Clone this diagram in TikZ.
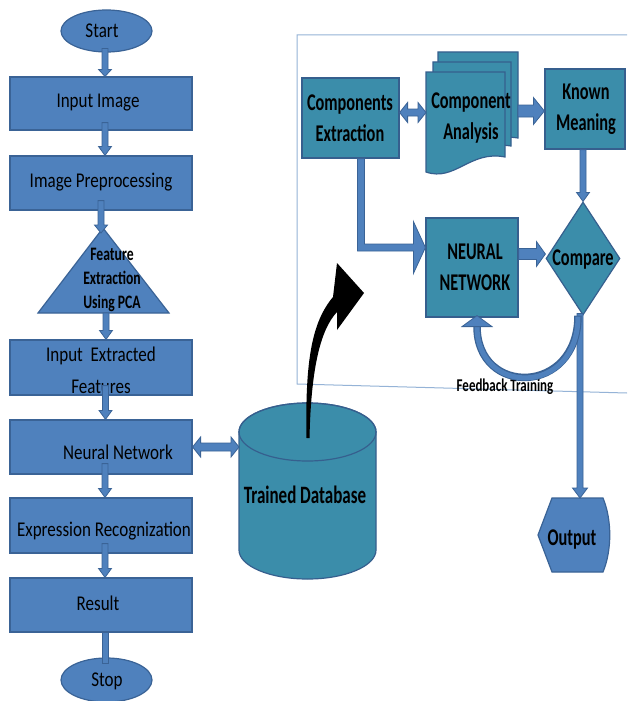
\documentclass[tikz,border=0pt]{standalone}
\usepackage{fontspec}
\setmainfont{Carlito}
\newfontfamily\lfont{Carlito}[FakeStretch=0.81]
\newfontfamily\rfont{Carlito}[FakeStretch=0.68]
\newfontfamily\mfont{Carlito}[FakeStretch=0.72]
\usetikzlibrary{shapes.geometric,calc}
\definecolor{bfill}{HTML}{4F81BD}
\definecolor{bline}{HTML}{3A6396}
\definecolor{tfill}{HTML}{3B8DAA}
\definecolor{tline}{HTML}{365F8E}
\definecolor{framec}{HTML}{95B3D7}
\tikzset{
 lbox/.style={draw=bline, fill=bfill, line width=1.2pt, inner sep=0},
 tbox/.style={draw=tline, fill=tfill, line width=1.2pt, inner sep=0},
 blk/.style={draw=bline, fill=bfill, line width=0.8pt, line join=miter},
 ltxt/.style={font=\lfont\fontsize{21}{32}\selectfont, align=center, inner sep=0},
 rtxt/.style={font=\rfont\bfseries\fontsize{24}{31}\selectfont, align=center, inner sep=0},
 mtxt/.style={font=\mfont\bfseries\fontsize{19}{24}\selectfont, align=center, inner sep=0},
}
% down block arrow: start, end, shaft half width, head half width, head length
\newcommand\downarr[5]{\path[blk] let \p1=#1, \p2=#2 in
 (\x1-#3pt,\y1) -- (\x1+#3pt,\y1) -- (\x1+#3pt,\y2+#5pt) -- (\x1+#4pt,\y2+#5pt) -- (\x1,\y2)
 -- (\x1-#4pt,\y2+#5pt) -- (\x1-#3pt,\y2+#5pt) -- cycle;}
\newcommand\rightarr[5]{\path[blk] let \p1=#1, \p2=#2 in
 (\x1,\y1+#3pt) -- (\x2-#5pt,\y1+#3pt) -- (\x2-#5pt,\y1+#4pt) -- (\x2,\y1)
 -- (\x2-#5pt,\y1-#4pt) -- (\x2-#5pt,\y1-#3pt) -- (\x1,\y1-#3pt) -- cycle;}
\newcommand\dblarr[5]{\path[blk] let \p1=#1, \p2=#2 in
 (\x1,\y1) -- (\x1+#5pt,\y1+#4pt) -- (\x1+#5pt,\y1+#3pt) -- (\x2-#5pt,\y1+#3pt) -- (\x2-#5pt,\y1+#4pt)
 -- (\x2,\y1) -- (\x2-#5pt,\y1-#4pt) -- (\x2-#5pt,\y1-#3pt) -- (\x1+#5pt,\y1-#3pt) -- (\x1+#5pt,\y1-#4pt) -- cycle;}
\begin{document}
\begin{tikzpicture}[x=1pt,y=-1pt]
\useasboundingbox (0,0) rectangle (627,701);
\fill[white] (0,0) rectangle (627,701);
% frame of the right panel
\draw[framec, line width=1pt] (627,35) -- (297,35) -- (297,384) -- (627,393);

% ---------- left column ----------
\node[ellipse, lbox, minimum width=91pt, minimum height=42pt] (st) at (106.5,31) {};
\node[rectangle, lbox, minimum width=182pt, minimum height=53pt] (ii) at (101,103.5) {};
\node[rectangle, lbox, minimum width=182pt, minimum height=54pt] (ip) at (101,183) {};
\coordinate (apex) at (103,228);
\coordinate (fbase) at (103,313);
\path[lbox] (apex) -- (169,313) -- (38,313) -- cycle;
\node[rectangle, lbox, minimum width=182pt, minimum height=55pt] (ief) at (101,367.5) {};
\node[rectangle, lbox, minimum width=182pt, minimum height=54pt] (nn) at (101,447) {};
\node[rectangle, lbox, minimum width=182pt, minimum height=55pt] (er) at (101,525.5) {};
\node[rectangle, lbox, minimum width=182pt, minimum height=54pt] (res) at (101,605) {};
\node[ellipse, lbox, minimum width=91pt, minimum height=44pt] (sp) at (106.5,680) {};

\node[ltxt] (tst) at (102,31) {Start};
\node[ltxt] (tii) at (98,103) {Input Image};
\node[ltxt] (tip) at (101,182) {Image Preprocessing};
\node[mtxt] (tfe) at (112,280) {Feature\\Extraction\\Using PCA};
\node[ltxt] (tief) at (101,370) {Input\ \ Extracted\\Features};
\node[ltxt] (tnn) at (118,452) {Neural Network};
\node[ltxt] (ter) at (104,531) {Expression Recognization};
\node[ltxt] (tres) at (98,603) {Result};
\node[ltxt] (tsp) at (107,681) {Stop};

\downarr{([yshift=4pt,xshift=-1.5pt]st.south)}{(ii.north)}{3}{6.5}{7}
\downarr{([xshift=4pt,yshift=8pt]ii.south)}{(ip.north)}{3}{6.5}{9}
\downarr{([yshift=10pt]ip.south)}{([yshift=-5pt]apex)}{3}{6.5}{8}
\downarr{([xshift=3pt]fbase)}{(ief.north)}{3}{6.5}{9}
\downarr{([xshift=4.5pt,yshift=10pt]ief.south)}{(nn.north)}{3}{6.5}{9}
\downarr{([xshift=4pt,yshift=11pt]nn.south)}{(er.north)}{3}{6.5}{9}
\downarr{([xshift=4pt,yshift=10pt]er.south)}{(res.north)}{3}{6.5}{9}
\path[blk] let \p1=([xshift=4pt]res.south), \p2=([yshift=-6pt]sp.north) in (\x1-3pt,\y1) rectangle (\x1+3pt,\y2);

% ---------- trained database ----------
\path[tbox] (239,432) -- (239,550) arc[start angle=180, end angle=0, x radius=68.5, y radius=29]
  -- (376,432) arc[start angle=0, end angle=-180, x radius=68.5, y radius=29] -- cycle;
\draw[tline, line width=1.2pt] (307.5,432) ellipse [x radius=68.5, y radius=29];
\coordinate (dbW) at (239,447);
\coordinate (dbT) at (308,438);
\node[rtxt, font=\rfont\bfseries\fontsize{25}{31}\selectfont] (tdb) at (305,495) {Trained Database};
\dblarr{(nn.east)}{(dbW)}{4}{10}{8}

% black curved arrow
\fill[black] ([xshift=-1.5pt]dbT) .. controls (305,360) and (312,322) .. (333,297) -- (337,263) -- (364,293) -- (337,330) -- (337,312)
  .. controls (320,330) and (311,370) .. ([xshift=1.5pt]dbT) -- cycle;

% ---------- right panel ----------
\node[rectangle, tbox, minimum width=97pt, minimum height=80pt] (ce) at (350.5,118) {};
% multi document
\path[tbox] (438,52) -- (518,52) -- (518,138) .. controls (483,132) and (468,164) .. (438,153) -- cycle;
\path[tbox] (433,62) -- (511,62) -- (511,146) .. controls (476,140) and (461,172) .. (433,161) -- cycle;
\path[tbox] (426,72) -- (505,72) -- (505,157) .. controls (470,150) and (455,182) .. (426,172) -- cycle;
\coordinate (caW) at (426,112.5);
\coordinate (caE) at (518,111);
\node[rectangle, tbox, minimum width=80pt, minimum height=80pt] (km) at (585,109) {};
\node[rectangle, tbox, minimum width=92pt, minimum height=99pt] (nnr) at (472,267.5) {};
\node[diamond, tbox, minimum width=74pt, minimum height=113pt] (cmp) at (583,258.5) {};
\path[lbox] (552,498) -- (603,498) .. controls (612,520) and (612,550) .. (603,572) -- (552,572) -- (538,535) -- cycle;
\coordinate (outT) at (579.5,498);

\node[rtxt] (tce) at (350,118) {Components\\Extraction};
\node[rtxt] (tca) at (471,118) {Component\\Analysis};
\node[rtxt] (tkm) at (586,109) {Known\\Meaning};
\node[rtxt] (tnnr) at (475,267) {NEURAL\\NETWORK};
\node[rtxt] (tcmp) at (583,260) {Compare};
\node[rtxt] (tout) at (572,540) {Output};
\node[mtxt, font=\mfont\bfseries\fontsize{18}{24}\selectfont] (tfb) at (505,387) {Feedback Training};

\dblarr{([yshift=5.5pt]ce.east)}{(caW)}{3.5}{10}{8}
\rightarr{(caE)}{(km.west)}{6}{13.5}{11}
\downarr{([xshift=-2pt]km.south)}{(cmp.north)}{3}{6.5}{9}
\path[blk] let \p1=([xshift=10.5pt]ce.south), \p2=([yshift=20pt]nnr.west) in
 (\x1-3.5pt,\y1) -- (\x1+3.5pt,\y1) -- (\x1+3.5pt,\y2+3.5pt) -- (\x2-12pt,\y2+3.5pt) -- (\x2-12pt,\y2+26pt)
 -- (\x2,\y2) -- (\x2-12pt,\y2-26pt) -- (\x2-12pt,\y2-3.5pt) -- (\x1-3.5pt,\y2-3.5pt) -- cycle;
\rightarr{([yshift=13.5pt]nnr.east)}{(cmp.west)}{5.5}{12.5}{9}
\downarr{([xshift=-3pt,yshift=2pt]cmp.south)}{(outT)}{3}{7.5}{10}

% feedback arc
\draw[bline, line width=7.5pt] ([xshift=-5pt]cmp.south) .. controls +(0,80) and +(0,70) .. ([xshift=5pt,yshift=-9pt]nnr.south);
\draw[bfill, line width=5pt] ([xshift=-5pt,yshift=-1pt]cmp.south) .. controls +(0,80) and +(0,70) .. ([xshift=5pt,yshift=-9pt]nnr.south);
\path[blk] ([xshift=-10pt,yshift=-9pt]nnr.south) -- ([xshift=20pt,yshift=-9pt]nnr.south) -- ([xshift=5pt,yshift=2pt]nnr.south) -- cycle;
\end{tikzpicture}
\end{document}
